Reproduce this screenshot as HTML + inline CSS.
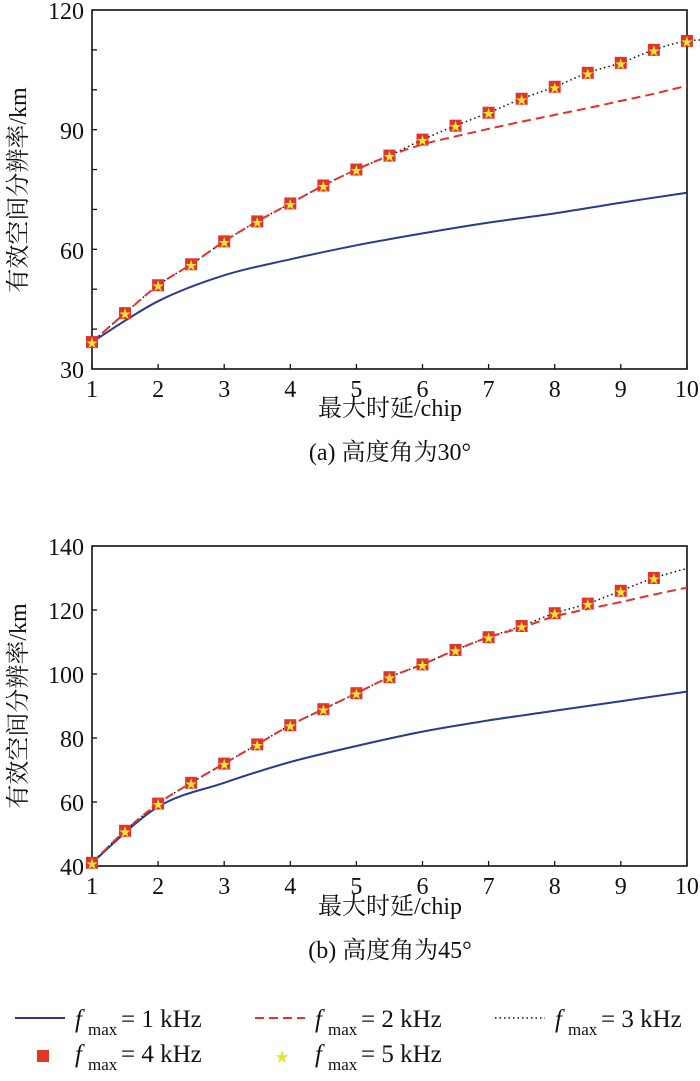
<!DOCTYPE html>
<html><head><meta charset="utf-8"><style>
html,body{margin:0;padding:0;background:#fff;}
svg{display:block;font-family:"Liberation Serif","Noto Serif CJK SC",serif;}
</style></head><body>
<svg id="s" width="700" height="1081" xmlns="http://www.w3.org/2000/svg">
<g font-size="24" fill="#111">
<text x="84" y="19" text-anchor="end">120</text>
<text x="84" y="139" text-anchor="end">90</text>
<text x="84" y="259" text-anchor="end">60</text>
<text x="84" y="378" text-anchor="end">30</text>
<text x="84" y="555" text-anchor="end">140</text>
<text x="84" y="619" text-anchor="end">120</text>
<text x="84" y="683" text-anchor="end">100</text>
<text x="84" y="747" text-anchor="end">80</text>
<text x="84" y="811" text-anchor="end">60</text>
<text x="84" y="875" text-anchor="end">40</text>
<text x="390" y="416" text-anchor="middle">最大时延/chip</text>
<text x="390" y="460" text-anchor="middle">(a) 高度角为30°</text>
<text x="390" y="914" text-anchor="middle">最大时延/chip</text>
<text x="390" y="958" text-anchor="middle">(b) 高度角为45°</text>
<text transform="translate(26,190) rotate(-90)" text-anchor="middle">有效空间分辨率/km</text>
<text transform="translate(26,706) rotate(-90)" text-anchor="middle">有效空间分辨率/km</text>
</g>
<g id="g"></g>
<g font-size="25" fill="#111">
<line x1="15" y1="1018" x2="65" y2="1018" stroke="#2b3a8c" stroke-width="2"/>
<text x="75" y="1027" font-style="italic">f</text><text x="88" y="1035" font-size="17">max</text><text x="121" y="1027">= 1 kHz</text>
<line x1="255" y1="1018" x2="305" y2="1018" stroke="#e8302a" stroke-width="2" stroke-dasharray="9,5"/>
<text x="315" y="1027" font-style="italic">f</text><text x="328" y="1035" font-size="17">max</text><text x="361" y="1027">= 2 kHz</text>
<line x1="495" y1="1018" x2="545" y2="1018" stroke="#111" stroke-width="1.5" stroke-dasharray="1.5,3"/>
<text x="555" y="1027" font-style="italic">f</text><text x="568" y="1035" font-size="17">max</text><text x="601" y="1027">= 3 kHz</text>
<rect x="37" y="1050" width="12" height="12" fill="#e0352b"/>
<text x="75" y="1062" font-style="italic">f</text><text x="88" y="1070" font-size="17">max</text><text x="121" y="1062">= 4 kHz</text>
<text x="282" y="1062" font-size="14" fill="#e8e030" text-anchor="middle">★</text>
<text x="315" y="1062" font-style="italic">f</text><text x="328" y="1070" font-size="17">max</text><text x="361" y="1062">= 5 kHz</text>
</g>
</svg>
<script>
var g=document.getElementById('g'),h='';
function X(x){return 92+(x-1)*66.1;}
function smooth(p){var s='M'+p[0][0].toFixed(1)+' '+p[0][1].toFixed(1);
 for(var i=0;i<p.length-1;i++){var p0=p[i>0?i-1:i],p1=p[i],p2=p[i+1],p3=p[i+2<p.length?i+2:i+1];
  s+='C'+(p1[0]+(p2[0]-p0[0])/6).toFixed(1)+' '+(p1[1]+(p2[1]-p0[1])/6).toFixed(1)+' '+(p2[0]-(p3[0]-p1[0])/6).toFixed(1)+' '+(p2[1]-(p3[1]-p1[1])/6).toFixed(1)+' '+p2[0].toFixed(1)+' '+p2[1].toFixed(1);}
 return s;}
function plot(top,bot,ymin,ymax,tickStep,blue,red,mk,last){
 var Y=function(v){return bot-(v-ymin)/(ymax-ymin)*(bot-top);};
 h+='<rect x="92" y="'+top+'" width="595" height="'+(bot-top)+'" fill="none" stroke="#111" stroke-width="1.6"/>';
 for(var v=ymin+tickStep;v<ymax;v+=tickStep)h+='<line x1="92" x2="97" y1="'+Y(v)+'" y2="'+Y(v)+'" stroke="#111" stroke-width="1.3"/>';
 for(var i=1;i<=10;i++){h+='<line x1="'+X(i)+'" x2="'+X(i)+'" y1="'+bot+'" y2="'+(bot-5)+'" stroke="#111" stroke-width="1.3"/>';
  h+='<text x="'+X(i)+'" y="'+(bot+28)+'" font-size="24" text-anchor="middle" fill="#111">'+i+'</text>';}
 function pts(arr,step){var r=[];for(var k=0;k<arr.length;k++)r.push([X(1+k*step),Y(arr[k])]);return r;}
 h+='<path d="'+smooth(pts(blue,1))+'" fill="none" stroke="#2b3a8c" stroke-width="2"/>';
 var dot=mk.concat([last]);
 h+='<path d="'+smooth(pts(dot,0.5))+'" fill="none" stroke="#111" stroke-width="1.5" stroke-dasharray="1.5,3"/>';
 h+='<path d="'+smooth(pts(red,0.5))+'" fill="none" stroke="#e8302a" stroke-width="2" stroke-dasharray="9,5"/>';
 for(var k=0;k<mk.length;k++){var x=X(1+k*0.5),y=Y(mk[k]);
  h+='<rect x="'+(x-6)+'" y="'+(y-6)+'" width="12" height="12" fill="#e0352b"/>';
  h+='<text x="'+x+'" y="'+(y+5)+'" font-size="12" fill="#f0e83a" text-anchor="middle">★</text>';}
}
var m1=[36.75,44,51,56.25,62,67,71.5,76,80,83.5,87.5,91,94.25,97.75,100.75,104.25,106.75,110,112.25];
var r1=m1.slice(0,10).concat([86.3,88.3,90.2,92,93.7,95.4,97.2,99,101]);
plot(10,369,30,120,10,[36.75,47,53.5,57.5,61,64,66.7,69,71.7,74.2],r1,m1,112.5);
var m2=[41,51,59.5,66,72,78,84,89,94,99,103,107.5,111.5,115,119,122,126,130];
var r2=m2.slice(0,13).concat([114.5,118,120.3,122.5,124.8,127]);
plot(546,866,40,140,20,[41,58.5,66,72.5,77.5,82,85.5,88.5,91.5,94.5],r2,m2,133);
g.innerHTML=h;
</script>
</body></html>
